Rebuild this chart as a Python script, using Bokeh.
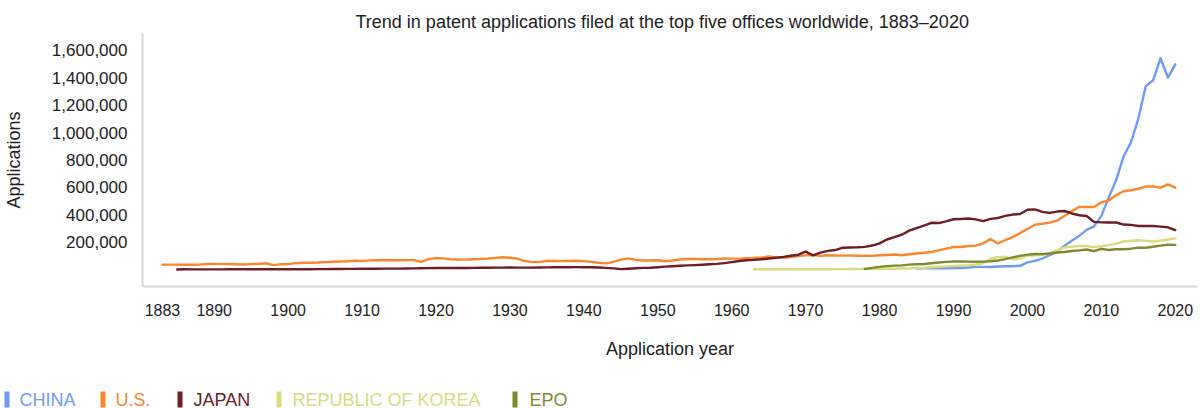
from bokeh.plotting import figure
from bokeh.models import FixedTicker, NumeralTickFormatter, Range1d, ColumnDataSource
from bokeh.layouts import column, row
from bokeh.embed import file_html
from bokeh.resources import INLINE
from bokeh.core.properties import value

FONT = "Liberation Sans"

# ---------------- data ----------------
us_years = list(range(1883, 2021))
us_apps = [
    35000, 35600, 35700, 35200, 35200, 35800, 40000, 40000, 39400, 40000,
    38500, 36900, 39100, 42000, 45600, 32000, 38900, 39700, 46300, 49500,
    49500, 50900, 54000, 56500, 58700, 59800, 63500, 63300, 67000, 68000,
    69000, 67500, 67100, 68800, 68200, 56300, 75400, 82700, 81100, 73800,
    72600, 72400, 75400, 76500, 80000, 84900, 89800, 85500, 79600, 61800,
    54000, 55300, 62100, 62000, 61500, 62300, 64100, 60900, 55600, 49300,
    44900, 55700, 72500, 81600, 70500, 66200, 66100, 67300, 60300, 65900,
    73300, 77000, 77200, 74900, 74500, 76600, 80200, 79600, 79500, 82300,
    85300, 87400, 94700, 88300, 84900, 90400, 98900, 102900, 104700, 99300,
    103800, 102500, 101000, 102000, 100900, 100600, 99300, 104300, 106400, 109600,
    103700, 111300, 117000, 122400, 127900, 139800, 152800, 164600, 164300, 171600,
    174700, 189900, 221600, 189900, 215300, 236700, 265800, 295900, 326500, 334400,
    342400, 356900, 390700, 425900, 456200, 456300, 456100, 490200, 503600, 542800,
    571600, 578800, 589400, 605600, 606900, 597100, 621500, 597200,
]

japan_years = list(range(1885, 2021))
japan_apps = [
    425, 1380, 1300, 1000, 1100, 1200, 1300, 1400, 1500, 1600,
    1700, 1800, 1900, 2000, 2100, 2000, 2100, 2200, 2400, 2600,
    3000, 3500, 4000, 4500, 5000, 5500, 5800, 6000, 6200, 6500,
    6800, 7500, 8500, 9500, 10000, 10500, 10800, 11000, 11200, 11500,
    12000, 12500, 13000, 13500, 14000, 14500, 14000, 13500, 14000, 15000,
    15500, 16000, 16500, 17000, 17500, 17000, 16000, 15000, 12000, 8000,
    3000, 6000, 9000, 12000, 13000, 17000, 21000, 24000, 27000, 30000,
    32000, 35000, 38000, 41000, 47000, 54000, 62000, 68000, 70000, 75000,
    80000, 86000, 92000, 100000, 108000, 131000, 103000, 123000, 136000, 142000,
    159000, 161000, 162000, 165000, 175000, 191000, 219000, 237000, 254000, 284000,
    302000, 321000, 341000, 339000, 351000, 367000, 369000, 372000, 366000, 353000,
    370000, 376000, 391000, 401000, 405000, 436000, 439000, 421000, 413000, 423000,
    427000, 409000, 396000, 391000, 348000, 344000, 343000, 343000, 328000, 326000,
    318000, 318000, 318000, 313000, 308000, 288000,
]

korea_years = list(range(1963, 2021))
korea_apps = [
    1800, 1700, 1600, 1700, 1800, 1800, 1800, 1800, 1900, 2000,
    2300, 2600, 2900, 3400, 4000, 4900, 5000, 5100, 5300, 5900,
    6900, 8600, 10600, 12800, 17000, 20000, 23000, 25800, 28000, 31000,
    36000, 45700, 78500, 90300, 92700, 75200, 80600, 102000, 104600, 106100,
    118700, 140100, 160900, 166200, 172500, 170600, 163500, 170100, 178900, 188900,
    204600, 210300, 213700, 208800, 204800, 210000, 218900, 226800,
]

epo_years = list(range(1978, 2021))
epo_apps = [
    3600, 12200, 19500, 24800, 28200, 30400, 35300, 37900, 40600, 45200,
    50700, 55500, 58800, 58900, 57600, 56500, 57400, 59800, 65500, 75800,
    88600, 99800, 109000, 113000, 112000, 117000, 124000, 128000, 135000, 140000,
    146000, 134000, 151000, 142000, 148000, 148000, 152000, 160000, 159000, 166000,
    174000, 181000, 180000,
]

china_years = list(range(1985, 2021))
china_apps = [
    8600, 8000, 8300, 9400, 9500, 10100, 11400, 14400, 19600, 19100,
    18700, 22000, 24000, 24300, 27000, 51900, 63200, 80200, 105300, 130100,
    173300, 210500, 245200, 289800, 314600, 391200, 526400, 652800, 825100, 928200,
    1101900, 1338500, 1381600, 1542000, 1400700, 1497200,
]

x_ticks = [1883, 1890, 1900, 1910, 1920, 1930, 1940, 1950, 1960, 1970,
           1980, 1990, 2000, 2010, 2020]
y_ticks = [200000, 400000, 600000, 800000, 1000000, 1200000, 1400000, 1600000]

series_names = ["CHINA", "U.S.", "JAPAN", "REPUBLIC OF KOREA", "EPO"]
series_colors = ["#6f9bf8", "#fc862c", "#6e1c25", "#d8dc7c", "#7f8a30"]
series_data = [
    (china_years, china_apps),
    (us_years, us_apps),
    (japan_years, japan_apps),
    (korea_years, korea_apps),
    (epo_years, epo_apps),
]

# ---------------- main chart ----------------
W, H = 1200, 380
FR_L, FR_R, FR_T, FR_B = 141, 1197, 33, 286

p = figure(width=W, height=H, output_backend="svg", toolbar_location=None,
           x_range=Range1d(1880.3, 2023.0), y_range=Range1d(-124000, 1722600),
           min_border_left=FR_L, min_border_right=W - FR_R, min_border_top=FR_T,
           min_border_bottom=H - FR_B,
           title="Trend in patent applications filed at the top five offices worldwide, 1883\u20132020")

p.title.align = "left"
p.title.offset = 213
p.title.text_font = FONT
p.title.text_font_size = "18px"
p.title.text_font_style = "normal"
p.title.text_color = "#222222"
p.title.standoff = 3

p.outline_line_color = None
p.xgrid.grid_line_color = None
p.ygrid.grid_line_color = None

for (yrs, vals), col in zip(series_data, series_colors):
    src = ColumnDataSource(dict(x=yrs, y=vals))
    p.line("x", "y", source=src, line_color=col, line_width=2.4,
           line_join="round", line_cap="round")

for ax in (p.xaxis[0], p.yaxis[0]):
    ax.axis_line_color = "#d9d9d9"
    ax.axis_line_width = 2
    ax.major_tick_line_color = None
    ax.minor_tick_line_color = None
    ax.major_tick_out = 0
    ax.major_tick_in = 0
    ax.major_label_text_font = FONT
    ax.major_label_text_color = "#222222"
    ax.axis_label_text_font = FONT
    ax.axis_label_text_font_style = "normal"
    ax.axis_label_text_color = "#222222"
    ax.axis_label_text_font_size = "18px"

p.xaxis.ticker = FixedTicker(ticks=x_ticks)
p.xaxis.major_label_text_font_size = "16px"
p.xaxis.major_label_standoff = 17
p.xaxis.axis_label = "Application year"
p.xaxis.axis_label_standoff = 20

p.yaxis.ticker = FixedTicker(ticks=y_ticks)
p.yaxis.formatter = NumeralTickFormatter(format="0,0")
p.yaxis.major_label_text_font_size = "17px"
p.yaxis.major_label_standoff = 15
p.yaxis.axis_label = "Applications"
p.yaxis.axis_label_standoff = 25

# ---------------- legend strip (separate small figure, pixel coordinates) ----------------
LW, LH = 1200, 28
lg = figure(width=LW, height=LH, output_backend="svg", toolbar_location=None,
            x_range=Range1d(0, LW), y_range=Range1d(0, LH),
            x_axis_type=None, y_axis_type=None,
            min_border_left=0, min_border_right=0, min_border_top=0, min_border_bottom=0)
lg.outline_line_color = None
lg.xgrid.grid_line_color = None
lg.ygrid.grid_line_color = None

LEG_CY = 9   # vertical centre of the legend row, from the strip bottom
bar_left = [4, 100, 177, 276, 512]
text_left = [19, 115, 193, 292, 529]
lg.quad(left=bar_left, right=[b + 5 for b in bar_left],
        bottom=[LEG_CY - 8] * 5, top=[LEG_CY + 8] * 5,
        fill_color=series_colors, line_color=None)
lg.text(x=text_left, y=[LEG_CY] * 5, text=series_names, text_color=series_colors,
        text_font=value(FONT), text_font_size="18px", text_baseline="middle",
        text_align="left")

layout = column(p, row(lg))
open("out.html", "w").write(file_html(layout, INLINE))
